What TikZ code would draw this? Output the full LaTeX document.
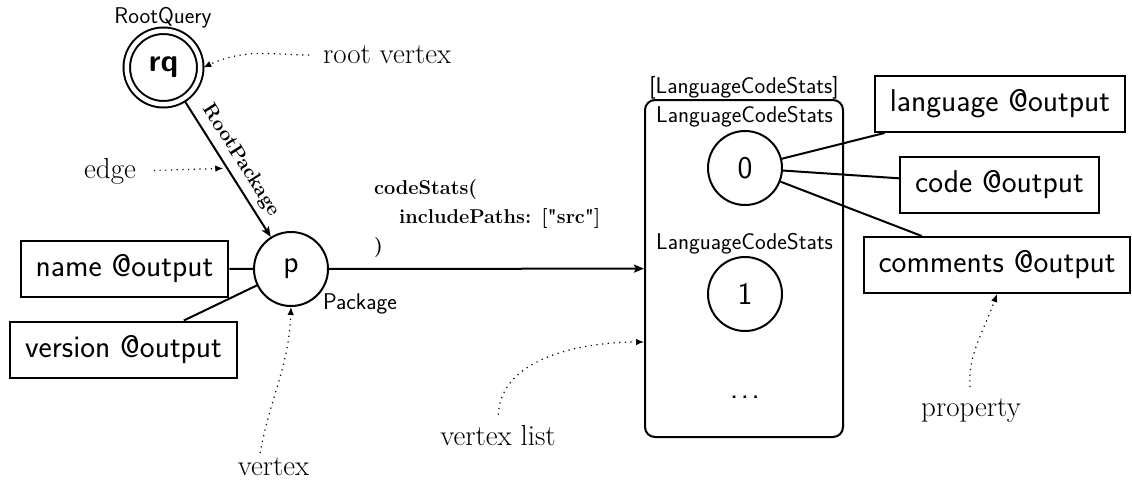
\documentclass[tikz,border=0pt]{standalone}
\usetikzlibrary{arrows.meta,calc}
\newcommand{\vtxfont}{\sffamily\fontsize{31.5}{36}\selectfont}
\newcommand{\typfont}{\sffamily\fontsize{22.8}{27}\selectfont}
\newcommand{\notefont}{\rmfamily\fontsize{29}{34}\selectfont}
\newcommand{\argfont}{\rmfamily\bfseries\fontsize{20}{29}\selectfont}
\begin{document}
\begin{tikzpicture}[x=1pt, y=-1pt, line width=2pt,
  vertexnode/.style={circle, draw, minimum size=74pt, inner sep=0pt, font=\vtxfont},
  propbox/.style={draw, minimum height=56pt, inner xsep=15pt, inner ysep=0pt, font=\vtxfont},
  typelabel/.style={inner sep=0pt, font=\typfont},
  note/.style={inner sep=0pt, font=\notefont},
  link/.style={-{Stealth[length=10pt, width=8pt, inset=2pt]}},
  pointer/.style={line width=1.2pt, dash pattern=on 1.2pt off 4.5pt, -{Latex[length=8pt, width=6.5pt]}},
]
\useasboundingbox (0,0) rectangle (1132,482);

% root vertex and the package vertex
\node[vertexnode, double, double distance=4.5pt, minimum size=73.5pt, outer sep=3pt,
      font=\vtxfont\bfseries] (rq) at (163.5,67.5) {rq};
\node[typelabel] (rqtype) at (163,18) {RootQuery};
\node[vertexnode] (p) at (291,269) {p};
\node[typelabel, anchor=west] (ptype) at (322,304) {Package};

% properties of the package
\node[propbox] (name) at (124.5,268.5) {name @output};
\node[propbox] (version) at (123.5,349.5) {version @output};
\draw (name) -- (p);
\draw (version) -- (p);

% edge from the root
\draw[link] (rq) -- node[sloped, above=6pt, inner sep=0pt, font=\argfont] (rplabel) {RootPackage} (p);

% list of LanguageCodeStats vertices
\node[draw, rounded corners=10pt, minimum width=198pt, minimum height=337pt] (list) at (744,268.5) {};
\node[typelabel] (listtype) at (744,88) {[LanguageCodeStats]};
\node[typelabel] (t0) at (744.5,117) {LanguageCodeStats};
\node[vertexnode] (e0) at (745,168) {0};
\node[typelabel] (t1) at (744.5,244) {LanguageCodeStats};
\node[vertexnode] (e1) at (745,294) {1};
\node[font=\vtxfont, inner sep=0pt, anchor=base] (more) at (745,398) {.\kern2.5pt.\kern2.5pt.};

% edge into the list
\draw[link] (p) -- (list);
\node[anchor=south west, inner sep=0pt] (args) at (373,262)
  {\argfont\begin{tabular}{@{}l@{}}codeStats(\\\hspace*{25pt}includePaths: [\textquotedbl src\textquotedbl]\\)\end{tabular}};

% properties of the first list vertex
\node[propbox] (lang) at (1000,104) {language @output};
\node[propbox] (code) at (999.5,185) {code @output};
\node[propbox] (comm) at (997,265) {comments @output};
\draw (e0) -- (lang);
\draw (e0) -- (code);
\draw (e0) -- (comm);

% annotations
\node[note, anchor=west] (rootnote) at (322,55) {root vertex};
\draw[pointer, shorten <=13pt] (rootnote.west) to[out=180, in=25] (rq.east);

\node[note] (edgenote) at (110,171) {edge};
\coordinate (edgemid) at ($(rq)!0.5!(p)$);
\draw[pointer, shorten <=17pt, shorten >=4pt] (edgenote.east) -- (edgemid);

\node[note] (vnote) at (273.5,467) {vertex};
\draw[pointer, shorten <=4pt] ([xshift=-14pt]vnote.north) to[out=80, in=-92] (p.south);

\node[note] (vlnote) at (498,436) {vertex list};
\coordinate (listin) at ($(list.west)+(0,73.5)$);
\draw[pointer, shorten <=10pt] (vlnote.north) to[out=88, in=180] (listin);

\node[note] (propnote) at (971,411) {property};
\draw[pointer, shorten <=11pt] (propnote.north) to[out=95, in=-110] (comm.south);
\end{tikzpicture}
\end{document}
